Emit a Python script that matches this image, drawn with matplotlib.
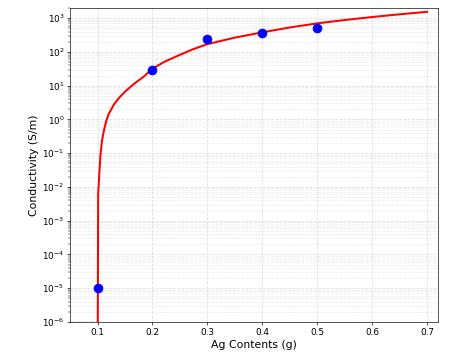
import matplotlib
matplotlib.use("Agg")
import matplotlib.pyplot as plt

# measured points
ag = [0.1, 0.2, 0.3, 0.4, 0.5]
cond = [1.0e-5, 30, 235, 370, 520]

# fitted curve
fit_x = [0.1, 0.1012, 0.1025, 0.1036, 0.1054, 0.108, 0.1114, 0.1155, 0.12,
         0.13, 0.14, 0.15, 0.16, 0.17, 0.185, 0.2, 0.223, 0.25, 0.275,
         0.3, 0.35, 0.4, 0.45, 0.5, 0.55, 0.6, 0.65, 0.7]
fit_y = [1e-9, 0.006, 0.015, 0.03, 0.09, 0.22, 0.45, 0.85, 1.4,
         2.8, 4.5, 6.6, 9.2, 12.5, 19, 32, 52, 82, 122,
         170, 265, 380, 530, 700, 880, 1080, 1300, 1540]

# below threshold
below_x = [0.05, 0.1]
below_y = [1e-6, 1e-6]

fig = plt.figure(figsize=(449 / 58, 363 / 58), dpi=58)
ax = fig.add_axes([0.156, 0.113, 0.8195, 0.865])

ax.plot(below_x, below_y, 'k--', lw=1.5)
ax.plot(fit_x, fit_y, 'r-', lw=2.5, zorder=3)
ax.plot(ag, cond, 'o', color='blue', ms=11, zorder=4)

ax.set_yscale('log')
ax.set_xlim(0.05, 0.72)
ax.set_ylim(1e-6, 2e3)
ax.set_xticks([0.1, 0.2, 0.3, 0.4, 0.5, 0.6, 0.7])
ax.set_xlabel('Ag Contents (g)', fontsize=13.5)
ax.set_ylabel('Conductivity (S/m)', fontsize=13.5)
ax.tick_params(labelsize=11)
ax.grid(True, which='major', ls='--', color='#d0d0d0', lw=1, alpha=0.7)
ax.grid(True, which='minor', axis='y', ls='--', color='#d8d8d8', lw=1, alpha=0.5)

fig.savefig('out.png', dpi=58)
